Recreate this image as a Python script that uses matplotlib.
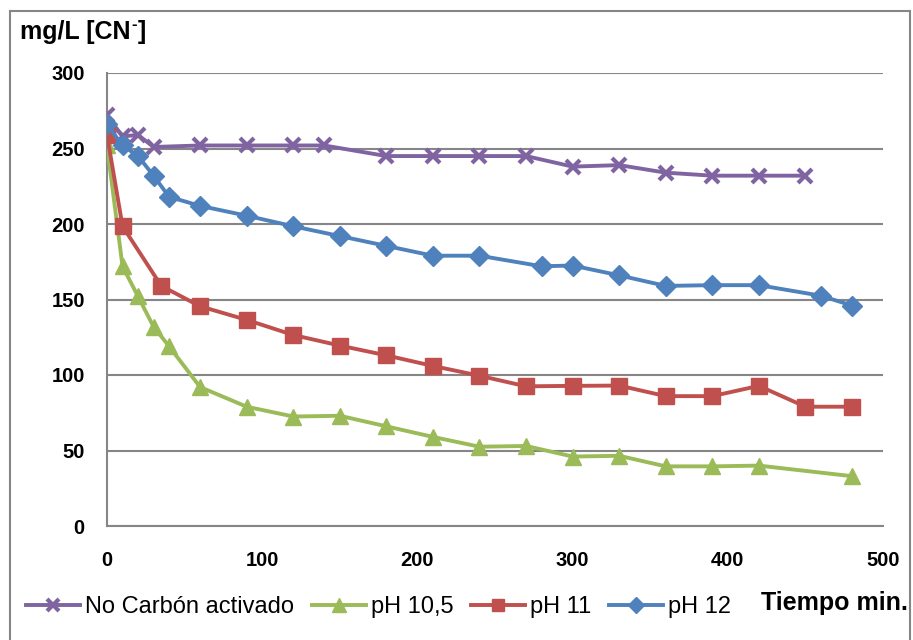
import matplotlib
matplotlib.use('Agg')
import matplotlib.pyplot as plt
from matplotlib.patches import Rectangle

plt.rcParams['font.family'] = ['Liberation Sans', 'DejaVu Sans']

# Data (time in min, concentration in mg/L CN-)
t_nocarbon = [0, 10, 20, 30, 60, 90, 120, 140, 180, 210, 240, 270, 300, 330, 360, 390, 420, 450]
y_nocarbon = [272, 258, 259, 251, 252, 252, 252, 252, 245, 245, 245, 245, 238, 239, 234, 232, 232, 232]

t_ph105 = [0, 10, 20, 30, 40, 60, 90, 120, 150, 180, 210, 240, 270, 300, 330, 360, 390, 420, 480]
y_ph105 = [252, 172, 152, 132, 119, 92, 79, 72.5, 73, 66, 59, 52.5, 53, 46, 46.5, 39.5, 39.5, 40, 33]

t_ph11 = [0, 10, 35, 60, 90, 120, 150, 180, 210, 240, 270, 300, 330, 360, 390, 420, 450, 480]
y_ph11 = [259, 198.5, 159, 145.5, 136.5, 126.5, 119.5, 113, 106, 99.5, 92.5, 92.8, 93, 86, 86, 92.8, 79, 79]

t_ph12 = [0, 10, 20, 30, 40, 60, 90, 120, 150, 180, 210, 240, 280, 300, 330, 360, 390, 420, 460, 480]
y_ph12 = [266, 252, 245, 232, 218, 212, 205.5, 198.5, 192, 185.5, 179, 179, 172, 172.5, 166, 159, 159.5, 159.5, 152.5, 146]

fig = plt.figure(figsize=(9.13, 6.4), dpi=100)
ax = fig.add_axes([107/913, 1 - 526/640, (883 - 107)/913, (526 - 73)/640])

lw = 2.8
ax.plot(t_nocarbon, y_nocarbon, color='#8064A2', lw=lw, marker='x', ms=10, mew=3,
        label='No Carbón activado', zorder=3)
ax.plot(t_ph105, y_ph105, color='#9BBB59', lw=lw, marker='^', ms=12, mec='#9BBB59',
        label='pH 10,5', zorder=3)
ax.plot(t_ph11, y_ph11, color='#C0504D', lw=lw, marker='s', ms=11.5, mec='#C0504D',
        label='pH 11', zorder=3)
ax.plot(t_ph12, y_ph12, color='#4F81BD', lw=lw, marker='D', ms=10, mec='#4F81BD',
        label='pH 12', zorder=3)

ax.set_xlim(0, 500)
ax.set_ylim(0, 300)
ax.set_xticks([0, 100, 200, 300, 400, 500])
ax.set_yticks([0, 50, 100, 150, 200, 250, 300])
ax.tick_params(length=0, labelsize=14.5)
ax.tick_params(axis='x', pad=18)
ax.tick_params(axis='y', pad=16)
for lab in ax.get_xticklabels() + ax.get_yticklabels():
    lab.set_fontweight('bold')
ax.grid(axis='y', color='#868686', lw=1.5)
ax.set_axisbelow(True)
for s in ['top', 'right']:
    ax.spines[s].set_visible(False)
for s in ['left', 'bottom']:
    ax.spines[s].set_color('#868686')
    ax.spines[s].set_linewidth(1.5)

# y-axis title with small superscript minus
t1 = fig.text(20/913, 1 - 32/640, 'mg/L [CN', fontsize=18, fontweight='bold',
              va='center', ha='left')
fig.canvas.draw()
bb = t1.get_window_extent()
x_end = bb.x1 / fig.bbox.width
t2 = fig.text(x_end + 1/913, 1 - 24/640, '-', fontsize=12, fontweight='bold',
              va='center', ha='left')
bb2 = t2.get_window_extent(renderer=fig.canvas.get_renderer())
fig.text(bb2.x1 / fig.bbox.width + 1/913, 1 - 32/640, ']', fontsize=18,
         fontweight='bold', va='center', ha='left')

fig.text(908/913, 1 - 603/640, 'Tiempo min.', fontsize=18, fontweight='bold',
         va='center', ha='right')

leg = fig.legend(loc='center left', bbox_to_anchor=(26/913, 1 - 607/640), ncol=4,
                 frameon=False, fontsize=17, handlelength=2.3, handletextpad=0.2,
                 columnspacing=0.75, borderaxespad=0, borderpad=0, markerscale=0.8)

# outer chart frame
fig.patches.append(Rectangle((10/913, -0.01), 900/913, 1.01 - 11/640,
                             transform=fig.transFigure, fill=False,
                             edgecolor='#868686', lw=1.5))

fig.savefig('out.png', dpi=100)
